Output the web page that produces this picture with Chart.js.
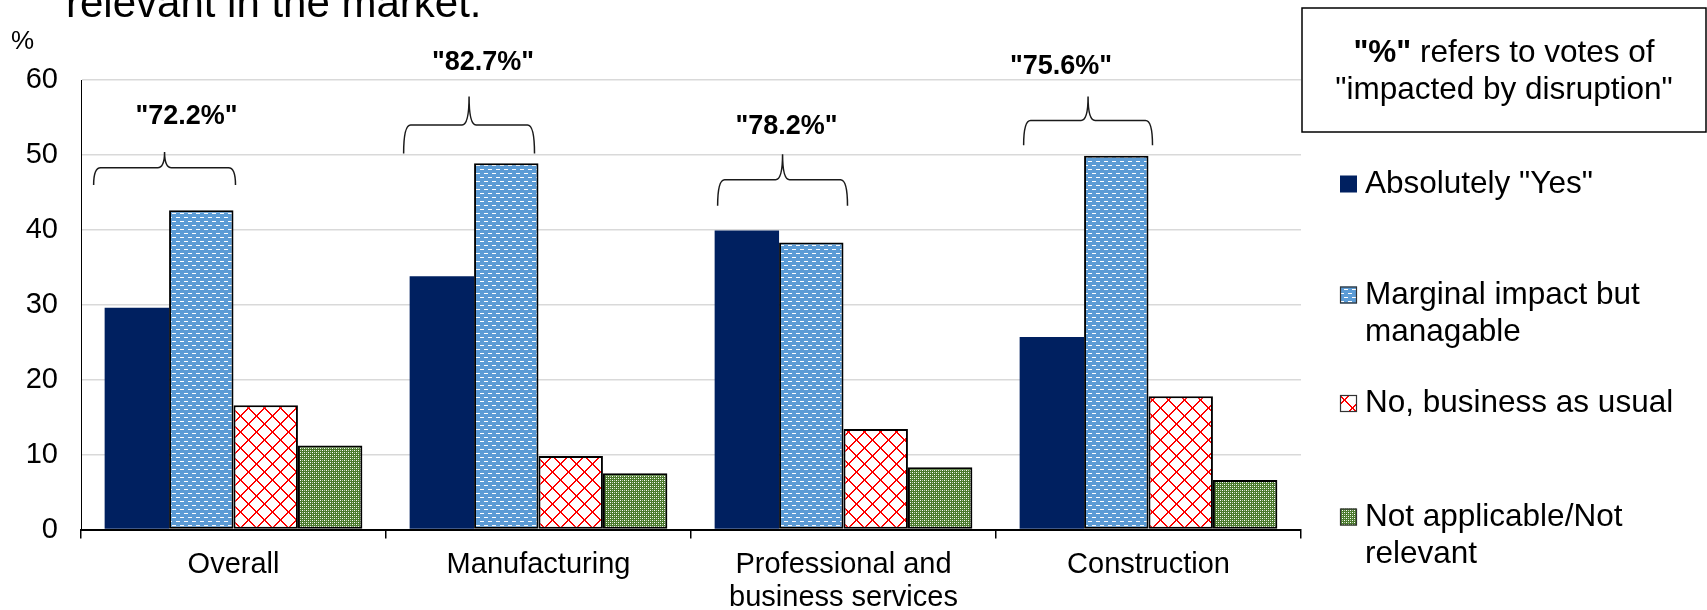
<!DOCTYPE html>
<html>
<head>
<meta charset="utf-8">
<script src="https://cdn.jsdelivr.net/npm/chart.js@4.4.1/dist/chart.umd.min.js"></script>
<style>
html, body { margin: 0; padding: 0; background: #fff; }
#wrap { width: 1707px; height: 610px; }
</style>
</head>
<body>
<div id="wrap"><canvas id="chart" width="1707" height="610"></canvas></div>
<script>
var categories = ['Overall', 'Manufacturing', ['Professional and', 'business services'], 'Construction'];
var seriesNames = ['Absolutely "Yes"', 'Marginal impact but managable', 'No, business as usual', 'Not applicable/Not relevant'];
var absolutelyYes = [29.6, 33.8, 39.9, 25.7];
var marginalImpact = [42.6, 48.9, 38.3, 49.9];
var businessAsUsual = [16.6, 9.8, 13.4, 17.8];
var notApplicable = [11.2, 7.5, 8.3, 6.6];
var impactedLabels = ['"72.2%"', '"82.7%"', '"78.2%"', '"75.6%"'];
var yTicks = [0, 10, 20, 30, 40, 50, 60];

var FONT = '"Liberation Sans", Arial, sans-serif';

// brace annotations (axis units for heights, px nudges for ends)
var braceTip = [46.0, 50.2, 43.2, 51.3];
var braceMid = [48.3, 54.0, 46.7, 54.6];
var braceTop = [50.4, 57.8, 50.1, 57.8];
var braceLabelY = [55.1, 62.3, 53.8, 61.8];
var braceLabelDx = [22, 14, 4, -27];
var braceLeftDx = [-11, -6, 3, 4];
var braceRightDx = [2, -4, 4, 4];

function tile(w, h, draw) {
	var c = document.createElement('canvas');
	c.width = w; c.height = h;
	var g = c.getContext('2d');
	draw(g);
	return g.createPattern(c, 'repeat');
}

var bluePattern = tile(8, 8, function(g) {
	g.fillStyle = '#5b9bd5'; g.fillRect(0, 0, 8, 8);
	g.fillStyle = '#ffffff';
	g.fillRect(0, 1, 4, 1);
	g.fillRect(4, 5, 4, 1);
});

var redPattern = tile(16, 16, function(g) {
	g.fillStyle = '#ffffff'; g.fillRect(0, 0, 16, 16);
	g.fillStyle = '#ff0000';
	for (var i = 0; i < 16; i++) {
		g.fillRect(i, i, 1, 1);
		g.fillRect((i + 1) % 16, i, 1, 1);
		g.fillRect(15 - i, i, 1, 1);
		g.fillRect((16 - i) % 16, i, 1, 1);
	}
});

var greenPattern = tile(4, 4, function(g) {
	g.fillStyle = '#4a7a2c'; g.fillRect(0, 0, 4, 4);
	g.fillStyle = '#ffffff';
	g.fillRect(0, 0, 1, 1);
	g.fillRect(2, 2, 1, 1);
	g.fillStyle = '#b9cdaa';
	g.fillRect(2, 0, 1, 1);
	g.fillRect(0, 2, 1, 1);
});

var fills = ['#002060', bluePattern, redPattern, greenPattern];
var legendLines = [['Absolutely "Yes"'], ['Marginal impact but', 'managable'], ['No, business as usual'], ['Not applicable/Not', 'relevant']];
var legendY = [184, 295, 403.5, 517];

var extras = {
	id: 'extras',
	afterDatasetsDraw: function(chart) {
		var ctx = chart.ctx;
		var y = chart.scales.y;
		var m0 = chart.getDatasetMeta(0), m1 = chart.getDatasetMeta(1);
		ctx.save();
		for (var i = 0; i < categories.length; i++) {
			var a = m0.data[i], b = m1.data[i];
			var x0 = a.x - a.width / 2 + braceLeftDx[i];
			var x1 = b.x + b.width / 2 + braceRightDx[i];
			var xc = (x0 + x1) / 2;
			var yTip = y.getPixelForValue(braceTip[i]);
			var yMid = y.getPixelForValue(braceMid[i]);
			var yTop = y.getPixelForValue(braceTop[i]);
			var r = 7;
			ctx.beginPath();
			ctx.moveTo(x0, yTip);
			ctx.quadraticCurveTo(x0, yMid, x0 + r, yMid);
			ctx.lineTo(xc - r, yMid);
			ctx.quadraticCurveTo(xc, yMid, xc, yTop);
			ctx.quadraticCurveTo(xc, yMid, xc + r, yMid);
			ctx.lineTo(x1 - r, yMid);
			ctx.quadraticCurveTo(x1, yMid, x1, yTip);
			ctx.strokeStyle = '#1a1a1a';
			ctx.lineWidth = 1.5;
			ctx.stroke();

			ctx.font = 'bold 27px ' + FONT;
			ctx.fillStyle = '#000';
			ctx.textAlign = 'center';
			ctx.textBaseline = 'middle';
			ctx.fillText(impactedLabels[i], xc + braceLabelDx[i], y.getPixelForValue(braceLabelY[i]));
		}
		ctx.restore();
	},
	afterDraw: function(chart) {
		var ctx = chart.ctx;
		ctx.save();
		ctx.fillStyle = '#000';

		// cut-off heading line
		ctx.font = '42px ' + FONT;
		ctx.textAlign = 'left';
		ctx.textBaseline = 'alphabetic';
		ctx.fillText('relevant in the market.', 66, 17);

		// unit
		ctx.font = '26px ' + FONT;
		ctx.textBaseline = 'middle';
		ctx.fillText('%', 11, 42);

		// note box
		ctx.strokeStyle = '#000';
		ctx.lineWidth = 1.5;
		ctx.strokeRect(1302, 8, 404, 124);
		ctx.font = 'bold 31.5px ' + FONT;
		var p1 = '"%"';
		var w1 = ctx.measureText(p1).width;
		ctx.font = '31.5px ' + FONT;
		var p2 = ' refers to votes of';
		var w2 = ctx.measureText(p2).width;
		var sx = 1504 - (w1 + w2) / 2;
		ctx.textBaseline = 'alphabetic';
		ctx.font = 'bold 31.5px ' + FONT;
		ctx.fillText(p1, sx, 62);
		ctx.font = '31.5px ' + FONT;
		ctx.fillText(p2, sx + w1, 62);
		ctx.textAlign = 'center';
		ctx.fillText('"impacted by disruption"', 1504, 99);

		// legend
		ctx.textAlign = 'left';
		ctx.textBaseline = 'middle';
		for (var i = 0; i < legendLines.length; i++) {
			var cy = legendY[i];
			ctx.fillStyle = fills[i];
			ctx.fillRect(1340, cy - 8.5, 17, 17);
			if (i > 0) {
				ctx.strokeStyle = '#333';
				ctx.lineWidth = 1.2;
				ctx.strokeRect(1340.5, cy - 8, 16, 16);
			}
			ctx.fillStyle = '#000';
			ctx.font = '31.5px ' + FONT;
			for (var k = 0; k < legendLines[i].length; k++) {
				ctx.fillText(legendLines[i][k], 1365, cy + k * 37);
			}
		}
		ctx.restore();
	}
};

var barBase = { borderColor: '#000', borderWidth: 2, borderSkipped: false };

var config = {
	type: 'bar',
	data: {
		labels: categories,
		datasets: [
			{ label: seriesNames[0], data: absolutelyYes, backgroundColor: fills[0], borderWidth: 0 },
			Object.assign({ label: seriesNames[1], data: marginalImpact, backgroundColor: fills[1] }, barBase),
			Object.assign({ label: seriesNames[2], data: businessAsUsual, backgroundColor: fills[2] }, barBase),
			Object.assign({ label: seriesNames[3], data: notApplicable, backgroundColor: fills[3] }, barBase)
		]
	},
	options: {
		responsive: false,
		animation: false,
		devicePixelRatio: 1,
		categoryPercentage: 0.845,
		barPercentage: 1,
		layout: { padding: { left: 26, right: 406, top: 80, bottom: 0 } },
		plugins: { legend: { display: false }, tooltip: { enabled: false }, title: { display: false } },
		scales: {
			x: {
				grid: { drawOnChartArea: false, drawTicks: true, tickLength: 9, color: '#000', lineWidth: 1.5 },
				border: { color: '#000', width: 2 },
				ticks: { color: '#000', font: { family: FONT, size: 29, lineHeight: 1.14 }, padding: 10, maxRotation: 0 },
				afterFit: function(s) { s.height = 80.5; }
			},
			y: {
				min: yTicks[0],
				max: yTicks[yTicks.length - 1],
				afterBuildTicks: function(s) { s.ticks = yTicks.map(function(v) { return { value: v }; }); },
				grid: {
					drawTicks: false,
					lineWidth: 1.5,
					color: function(c) { return c.tick && c.tick.value === 0 ? 'rgba(0,0,0,0)' : '#d9d9d9'; }
				},
				border: { color: '#000', width: 1 },
				ticks: { color: '#000', font: { family: FONT, size: 29 }, padding: 23 },
				afterFit: function(s) { s.width = 55; }
			}
		}
	},
	plugins: [extras]
};

new Chart(document.getElementById('chart').getContext('2d'), config);
</script>
</body>
</html>
